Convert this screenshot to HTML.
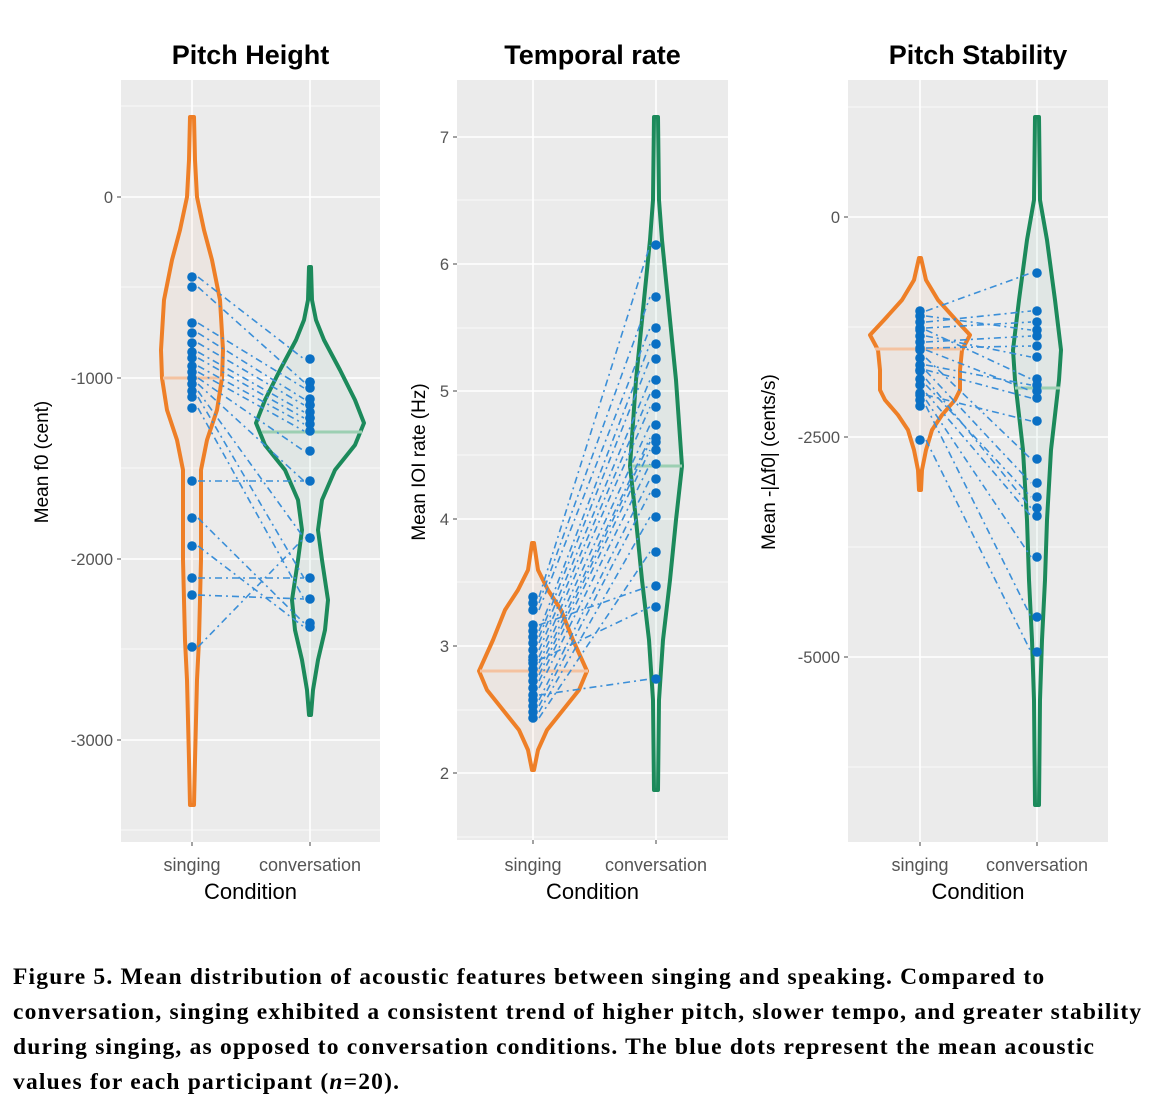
<!DOCTYPE html><html><head><meta charset="utf-8"><style>
body{margin:0;background:#fff;width:1163px;height:1110px;overflow:hidden}
.cap{position:absolute;left:13px;top:960px;white-space:nowrap;font:bold 23.5px/35px "Liberation Serif",serif;letter-spacing:1.2px;color:#000}
</style></head><body>
<svg id="s" width="1163" height="950" style="position:absolute;left:0;top:0" xmlns="http://www.w3.org/2000/svg"></svg>
<div class="cap">Figure 5. Mean distribution of acoustic features between singing and speaking. Compared to<br>conversation, singing exhibited a consistent trend of higher pitch, slower tempo, and greater stability<br>during singing, as opposed to conversation conditions. The blue dots represent the mean acoustic<br>values for each participant (<i>n</i>=20).</div>
<script>
const S=document.getElementById('s');let h='';
const OR='#EE7F27',GR='#1C8A5B',BL='#0A70C4';
function panel(p){
 h+=`<rect x="${p.x0}" y="80" width="${p.x1-p.x0}" height="${p.yb-80}" fill="#EBEBEB"/>`;
 p.minor.forEach(y=>h+=`<line x1="${p.x0}" x2="${p.x1}" y1="${y}" y2="${y}" stroke="#fff" stroke-width="0.8"/>`);
 p.ticks.forEach(t=>{h+=`<line x1="${p.x0}" x2="${p.x1}" y1="${t[1]}" y2="${t[1]}" stroke="#fff" stroke-width="1.6"/><line x1="${p.x0-4}" x2="${p.x0}" y1="${t[1]}" y2="${t[1]}" stroke="#444" stroke-width="1"/><text x="${p.x0-8}" y="${t[1]+6}" text-anchor="end" font-family="Liberation Sans,sans-serif" font-size="16.5" fill="#555">${t[0]}</text>`});
 [p.cs,p.cc].forEach(x=>h+=`<line x1="${x}" x2="${x}" y1="80" y2="${p.yb}" stroke="#fff" stroke-width="1.6"/><line x1="${x}" x2="${x}" y1="${p.yb}" y2="${p.yb+4}" stroke="#444"/>`);
 h+=`<text x="${p.cs}" y="871" text-anchor="middle" font-family="Liberation Sans,sans-serif" font-size="18" fill="#555">singing</text><text x="${p.cc}" y="871" text-anchor="middle" font-family="Liberation Sans,sans-serif" font-size="18" fill="#555">conversation</text>`;
 h+=`<text x="${(p.x0+p.x1)/2}" y="899" text-anchor="middle" font-family="Liberation Sans,sans-serif" font-size="22" fill="#000">Condition</text>`;
 h+=`<text x="${(p.x0+p.x1)/2}" y="64" text-anchor="middle" font-family="Liberation Sans,sans-serif" font-weight="bold" font-size="27" fill="#000">${p.title}</text>`;
 h+=`<text transform="translate(${p.lx},${p.ly}) rotate(-90)" text-anchor="middle" font-family="Liberation Sans,sans-serif" font-size="19" fill="#000">${p.ylab}</text>`;
 vio(p.cs,p.vs,OR,'rgba(238,127,39,0.05)');vio(p.cc,p.vc,GR,'rgba(28,138,91,0.05)');
 h+=`<line x1="${p.ms[1]}" x2="${p.ms[2]}" y1="${p.ms[0]}" y2="${p.ms[0]}" stroke="#F4C2A0" stroke-width="3"/>`;
 h+=`<line x1="${p.mc[1]}" x2="${p.mc[2]}" y1="${p.mc[0]}" y2="${p.mc[0]}" stroke="#9CCFB2" stroke-width="3"/>`;
 const a=p.ps,b=p.pc;
 for(let i=0;i<Math.min(a.length,b.length);i++){const j=p.perm?p.perm[i]:i;h+=`<line x1="${p.cs+6}" y1="${a[i]}" x2="${p.cc-6}" y2="${b[j]}" stroke="#3B8FD8" stroke-width="1.6" stroke-dasharray="7 4 2 4"/>`}
 a.forEach(y=>h+=`<circle cx="${p.cs}" cy="${y}" r="4.8" fill="${BL}"/>`);
 b.forEach(y=>h+=`<circle cx="${p.cc}" cy="${y}" r="4.8" fill="${BL}"/>`);
}
function vio(c,v,col,fill){let L=v.map(q=>`${c-q[1]},${q[0]}`),R=v.slice().reverse().map(q=>`${c+q[1]},${q[0]}`);
 h+=`<polygon points="${L.concat(R).join(' ')}" fill="${fill}" stroke="${col}" stroke-width="4" stroke-linejoin="round"/>`}
panel({x0:121,x1:380,yb:842,cs:192,cc:310,title:'Pitch Height',ylab:'Mean f0 (cent)',lx:48,ly:462,
 minor:[106,287,468,649,830],ticks:[['0',197],['-1000',378],['-2000',559],['-3000',740]],
 vs:[[117,2],[160,3],[197,5],[230,12],[260,20],[300,28],[350,31],[378,30],[410,25],[440,15],[470,9],[500,9],[560,9],[600,8],[640,7],[680,5],[720,4],[760,3],[805,2]],
 vc:[[267,1],[300,2],[320,6],[340,14],[370,30],[400,45],[423,54],[445,45],[470,25],[500,12],[530,8],[560,12],[600,18],[630,15],[660,8],[690,3],[715,1]],
 ms:[378,163,222],mc:[432,262,362],
 ps:[277,287,323,333,343,352,358,366,372,378,384,391,397,408,481,518,546,578,595,647],
 pc:[359,382,388,399,405,412,418,424,431,451,481,538,578,599,623,627,405,418,382,538],
 perm:[0,1,2,3,4,5,6,7,8,9,10,11,12,13,10,14,15,12,13,11]});
panel({x0:457,x1:728,yb:840,cs:533,cc:656,title:'Temporal rate',ylab:'Mean IOI rate (Hz)',lx:425,ly:462,
 minor:[200,328,455,582,710,837],ticks:[['7',137],['6',264],['5',391],['4',519],['3',646],['2',773]],
 vs:[[543,1],[570,5],[590,15],[610,28],[640,40],[671,54],[690,46],[710,30],[730,14],[750,5],[770,1]],
 vc:[[117,2],[200,3],[240,6],[300,12],[380,20],[466,26],[520,20],[580,14],[640,7],[700,3],[790,2]],
 ms:[671,480,588],mc:[466,632,682],
 ps:[597,603,610,631,637,643,650,657,663,669,675,681,688,700,706,712,718,625,660,695],
 pc:[245,297,328,344,359,380,394,407,425,438,442,450,464,479,493,517,552,586,607,679]});
panel({x0:848,x1:1108,yb:842,cs:920,cc:1037,title:'Pitch Stability',ylab:'Mean -|Δf0| (cents/s)',lx:775,ly:462,
 minor:[107,327,547,767],ticks:[['0',217],['-2500',437],['-5000',657]],
 vs:[[258,1],[280,6],[300,18],[320,36],[335,50],[350,42],[370,40],[390,40],[400,35],[415,22],[430,12],[450,6],[470,2],[490,1]],
 vc:[[117,2],[200,3],[240,10],[300,18],[350,24],[380,22],[450,14],[520,10],[580,8],[640,5],[700,3],[805,2]],
 ms:[349,875,962],mc:[388,1015,1060],
 ps:[311,316,322,328,336,342,348,358,365,371,379,385,393,400,406,440,330,350,370,395],
 pc:[273,311,322,330,336,346,357,379,385,391,398,421,459,483,497,508,516,557,617,652],
 perm:[0,3,1,2,6,4,5,12,8,13,15,14,16,17,18,19,7,9,10,11]});
S.innerHTML=h;
</script></body></html>
